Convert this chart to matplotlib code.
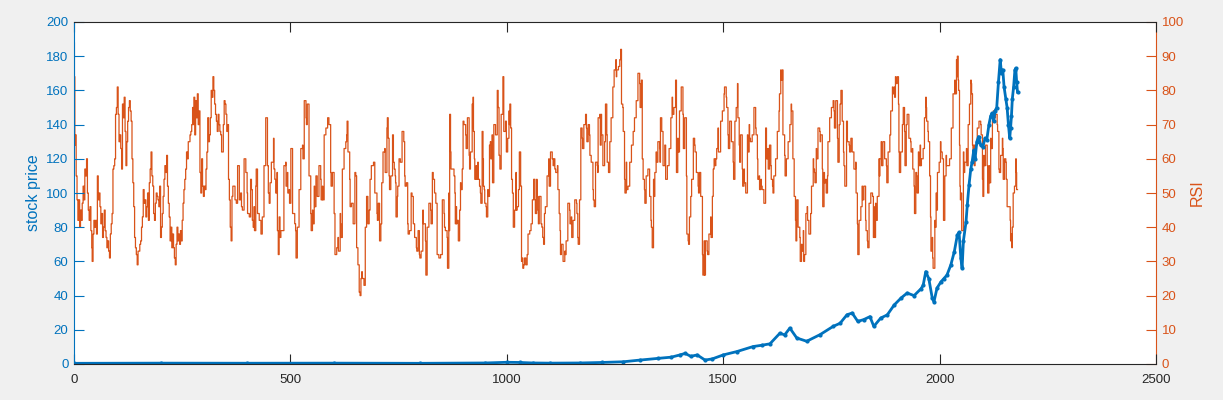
#Imports
import matplotlib
matplotlib.use('Agg')
import matplotlib.pyplot as plt
import numpy as np

plt.rcParams['font.family'] = ['Liberation Sans', 'DejaVu Sans']

#Colours (MATLAB default order)
blue = '#0072BD'
orange = '#D95319'
grey = '#262626'

#Stock price (day, price)
price_pts = [(0, 0.4), (200, 0.5), (400, 0.45), (600, 0.5), (800, 0.4), (950, 0.6), (1000, 1.0),
             (1030, 0.9), (1060, 0.6), (1100, 0.5), (1169, 0.6), (1220, 0.9), (1269, 1.3), (1308, 2.3),
             (1350, 3.3), (1380, 4.0), (1400, 5.3), (1412, 6.2), (1425, 4.5), (1440, 5.3), (1458, 2.3),
             (1475, 3.0), (1500, 5.3), (1532, 7.3), (1569, 10.2), (1590, 11), (1608, 11.8), (1631, 18),
             (1642, 17), (1654, 21), (1670, 15.2), (1693, 13.3), (1724, 17.2), (1754, 22), (1770, 23.8),
             (1786, 28.8), (1798, 29.8), (1811, 24.9), (1825, 26), (1839, 27.7), (1848, 22), (1864, 26.9),
             (1879, 28.7), (1895, 34.5), (1911, 38.6), (1925, 41.5), (1941, 40), (1957, 44), (1962, 46),
             (1968, 54), (1975, 50), (1983, 38.6), (1987, 36.4), (1994, 44.4), (2003, 48), (2010, 50),
             (2017, 52), (2026, 58), (2034, 65.7), (2041, 75.4), (2045, 77), (2049, 62), (2052, 56),
             (2055, 72), (2061, 83), (2064, 93), (2068, 104.7), (2072, 114), (2075, 118), (2079, 125),
             (2082, 120), (2086, 130), (2090, 133), (2095, 128), (2100, 127), (2105, 132), (2109, 131),
             (2114, 140), (2118, 145), (2121, 146.6), (2125, 142), (2128, 148), (2132, 150), (2136, 165),
             (2140, 178), (2143, 170), (2146, 172), (2149, 162), (2153, 155), (2156, 150), (2159, 140),
             (2162, 132), (2164, 138), (2166, 145), (2168, 155), (2171, 162), (2174, 172), (2176, 173),
             (2178, 165), (2180, 159)]

#RSI (day, value), in six pieces
rsi_part1 = [(0, 94), (1, 84), (2, 64), (3, 67), (5, 55), (7, 48), (9, 42), (11, 48), (13, 40), (15, 45),
             (17, 42), (19, 47), (21, 52), (23, 48), (25, 57), (27, 55), (29, 60), (31, 50), (33, 45),
             (35, 42), (37, 46), (39, 39), (41, 34), (42, 30), (44, 38), (46, 42), (48, 40), (50, 42),
             (52, 38), (54, 55), (56, 48), (58, 50), (60, 46), (62, 41), (64, 44), (66, 37), (68, 40),
             (70, 45), (72, 39), (74, 37), (76, 34), (78, 36), (80, 33), (82, 31), (84, 38), (86, 41),
             (88, 44), (90, 57), (92, 58), (94, 60), (96, 73), (98, 75), (100, 81), (102, 73), (104, 65),
             (106, 67), (108, 63), (110, 57), (112, 76), (114, 72), (116, 78), (118, 68), (120, 58),
             (122, 65), (124, 71), (126, 75), (128, 77), (130, 74), (132, 71), (134, 60), (136, 53),
             (138, 46), (140, 37), (142, 34), (144, 32), (146, 29), (148, 33), (150, 33), (152, 35),
             (154, 36), (156, 40), (158, 43), (160, 51), (162, 47), (164, 48), (166, 43), (168, 46),
             (170, 50), (172, 42), (174, 53), (176, 57), (178, 62), (180, 55), (182, 52), (184, 44),
             (186, 42), (188, 47), (190, 50), (192, 49), (194, 48), (196, 46), (198, 52), (200, 37),
             (202, 40), (204, 44), (206, 49), (208, 54), (210, 58), (212, 56), (214, 61), (216, 52),
             (218, 47), (220, 43), (222, 36), (224, 40), (226, 34), (228, 38), (230, 34), (232, 31),
             (234, 29), (236, 35), (238, 40), (240, 36), (242, 38), (244, 35), (246, 39), (248, 36),
             (250, 42), (252, 47), (254, 51), (256, 54), (258, 57), (260, 62), (262, 60), (264, 65),
             (266, 65), (268, 67), (270, 68), (272, 70), (274, 75), (276, 70), (277, 78), (279, 67),
             (281, 77), (283, 72), (285, 79), (287, 70), (289, 74), (291, 56), (293, 50), (295, 60),
             (297, 52), (299, 49), (301, 52), (303, 51), (305, 57), (307, 62), (309, 72), (311, 65),
             (313, 67), (315, 72), (317, 80), (319, 78), (321, 84), (323, 80), (325, 76), (327, 73),
             (329, 71), (331, 68), (333, 73), (335, 70), (337, 68), (339, 67), (341, 62), (343, 62),
             (345, 70), (347, 77), (349, 76), (351, 73), (353, 68), (355, 70), (357, 54), (359, 48),
             (361, 40), (363, 36), (365, 49), (367, 52)]
rsi_part2 = [(370, 52), (372, 48), (375, 47), (378, 58), (382, 48), (385, 50), (387, 46), (389, 45),
             (393, 60), (397, 56), (400, 50), (401, 44), (405, 43), (408, 54), (410, 51), (412, 42),
             (414, 40), (416, 46), (417, 39), (420, 52), (421, 57), (424, 44), (428, 42), (432, 38),
             (435, 43), (439, 58), (443, 72), (447, 58), (449, 50), (451, 47), (453, 53), (456, 59),
             (461, 66), (462, 57), (464, 54), (466, 50), (469, 56), (470, 39), (472, 32), (474, 43),
             (476, 37), (478, 39), (484, 39), (485, 58), (489, 59), (490, 52), (493, 56), (494, 50),
             (497, 51), (498, 47), (501, 63), (505, 44), (509, 44), (510, 41), (512, 39), (513, 31),
             (516, 40), (520, 51), (524, 63), (528, 64), (529, 60), (532, 77), (536, 72), (537, 70),
             (539, 76), (543, 55), (547, 44), (548, 39), (551, 45), (552, 41), (555, 52), (556, 46),
             (559, 55), (562, 49), (566, 58), (570, 54), (571, 48), (574, 52), (575, 48), (578, 67),
             (582, 69), (586, 72), (589, 70), (593, 56), (594, 52), (597, 56), (601, 44), (603, 32),
             (607, 34), (610, 37), (611, 33), (615, 44), (616, 41), (617, 37), (620, 57), (624, 63),
             (628, 65), (630, 67), (631, 71), (633, 62), (637, 54), (638, 46), (641, 47), (645, 41),
             (649, 56), (651, 55), (653, 34), (656, 29), (659, 21), (661, 20), (663, 25), (665, 27),
             (666, 25), (670, 23), (673, 40), (676, 49), (679, 41), (682, 45), (684, 54), (687, 58),
             (692, 59), (695, 50), (700, 44), (701, 42), (703, 47), (706, 36), (709, 41), (711, 53),
             (714, 62), (718, 63), (719, 56), (723, 69), (724, 72), (726, 66), (728, 55), (729, 51),
             (732, 55), (736, 67), (738, 59)]
rsi_part3 = [(740, 57), (742, 55), (743, 53), (744, 43), (747, 49), (748, 52), (751, 60), (754, 59),
             (758, 68), (762, 65), (764, 55), (765, 52), (768, 53), (771, 41), (772, 38), (775, 39),
             (779, 50), (781, 49), (784, 41), (787, 37), (791, 34), (792, 33), (795, 39), (798, 32),
             (799, 31), (802, 33), (806, 45), (807, 41), (809, 41), (812, 36), (813, 26), (815, 26),
             (816, 40), (820, 47), (824, 45), (825, 41), (828, 56), (830, 54), (833, 50), (836, 47),
             (839, 32), (843, 31), (847, 32), (851, 48), (855, 44), (856, 40), (858, 39), (862, 37),
             (863, 28), (866, 50), (867, 39), (868, 73), (870, 62), (871, 57), (874, 57), (878, 55),
             (880, 50), (881, 41), (883, 46), (884, 41), (885, 42), (888, 36), (891, 45), (893, 53),
             (894, 51), (897, 57), (899, 71), (901, 70), (905, 67), (906, 63), (909, 72), (913, 61),
             (914, 57), (916, 62), (920, 76), (921, 69), (922, 78), (923, 68), (925, 60), (926, 54),
             (929, 58), (930, 54), (933, 59), (934, 54), (937, 52), (939, 50), (940, 47), (943, 68),
             (945, 60), (946, 52), (948, 51), (949, 47), (952, 46), (953, 43), (956, 51), (957, 49),
             (960, 64), (962, 65), (963, 60), (966, 67), (967, 53), (970, 70), (974, 67), (978, 80),
             (980, 75), (982, 61), (984, 57), (987, 73), (991, 84), (993, 68), (997, 71), (999, 62),
             (1002, 66), (1005, 74), (1006, 70), (1007, 76), (1009, 69), (1011, 54), (1013, 50),
             (1015, 40), (1018, 45), (1021, 56), (1022, 45), (1024, 46), (1027, 51), (1029, 62),
             (1032, 52), (1034, 30), (1036, 31), (1037, 28), (1039, 29), (1041, 31), (1044, 29),
             (1047, 32), (1049, 38), (1053, 39), (1056, 41), (1059, 48), (1062, 54), (1065, 48),
             (1066, 44), (1069, 54), (1070, 49), (1072, 45), (1073, 41), (1075, 49), (1079, 41),
             (1081, 40), (1083, 37), (1085, 35), (1087, 44), (1089, 46), (1093, 55), (1097, 60),
             (1098, 52), (1101, 62), (1105, 60), (1107, 58)]
rsi_part4 = [(1109, 60), (1111, 57), (1113, 56), (1117, 58), (1118, 51), (1121, 44), (1123, 39),
             (1124, 32), (1126, 35), (1130, 30), (1134, 33), (1135, 32), (1137, 36), (1141, 47),
             (1145, 45), (1146, 41), (1149, 43), (1150, 37), (1153, 42), (1157, 48), (1161, 47),
             (1162, 44), (1164, 37), (1165, 35), (1168, 48), (1171, 69), (1174, 66), (1175, 63),
             (1178, 70), (1182, 73), (1184, 69), (1185, 65), (1188, 70), (1191, 67), (1192, 61),
             (1195, 59), (1199, 51), (1200, 48), (1202, 46), (1205, 59), (1209, 58), (1210, 56),
             (1211, 72), (1215, 73), (1216, 64), (1218, 73), (1219, 67), (1222, 58), (1226, 65),
             (1228, 76), (1231, 67), (1232, 59), (1235, 56), (1238, 65), (1241, 72), (1245, 81),
             (1248, 86), (1252, 89), (1253, 84), (1254, 86), (1258, 87), (1261, 89), (1263, 92),
             (1265, 76), (1268, 75), (1269, 68), (1272, 54), (1273, 50), (1276, 59), (1277, 51),
             (1280, 52), (1284, 59), (1288, 64), (1292, 68), (1295, 72), (1299, 77), (1303, 85),
             (1307, 82), (1308, 75), (1311, 83), (1313, 60), (1315, 54), (1318, 51), (1319, 47),
             (1322, 55), (1326, 57), (1330, 49), (1333, 42), (1334, 40), (1336, 34), (1339, 54),
             (1340, 49), (1342, 56), (1345, 62), (1346, 59), (1349, 65), (1353, 63), (1354, 59),
             (1355, 72), (1358, 68), (1361, 58), (1365, 64), (1367, 54), (1371, 58), (1375, 63),
             (1379, 72), (1382, 78), (1383, 73), (1386, 75), (1390, 83), (1392, 56), (1395, 66),
             (1396, 62), (1399, 74), (1403, 81), (1407, 73), (1408, 63), (1411, 72), (1415, 55),
             (1416, 38), (1419, 36), (1420, 35), (1422, 43), (1425, 49), (1427, 54), (1431, 66),
             (1434, 64), (1435, 62), (1438, 56), (1442, 52), (1443, 50), (1445, 56), (1448, 49),
             (1452, 32), (1453, 26), (1456, 36), (1457, 26), (1459, 36), (1463, 33), (1464, 32),
             (1467, 38), (1471, 43), (1472, 37), (1475, 49), (1477, 57)]
rsi_part5 = [(1479, 60), (1481, 58), (1483, 60), (1485, 63), (1488, 69), (1489, 62), (1492, 62),
             (1494, 71), (1498, 74), (1502, 79), (1503, 81), (1506, 81), (1507, 78), (1508, 75),
             (1511, 67), (1512, 63), (1515, 71), (1519, 65), (1523, 59), (1524, 54), (1527, 71),
             (1530, 75), (1533, 82), (1534, 72), (1537, 64), (1538, 59), (1540, 67), (1544, 57),
             (1545, 52), (1548, 57), (1549, 53), (1552, 50), (1556, 67), (1557, 62), (1560, 70),
             (1561, 66), (1563, 65), (1567, 67), (1571, 75), (1575, 69), (1576, 67), (1579, 60),
             (1580, 54), (1583, 55), (1584, 51), (1587, 54), (1588, 52), (1590, 51), (1594, 47),
             (1598, 69), (1600, 60), (1603, 63), (1604, 57), (1607, 64), (1610, 58), (1611, 54),
             (1614, 52), (1615, 50), (1617, 55), (1621, 60), (1625, 68), (1629, 74), (1630, 79),
             (1633, 86), (1634, 83), (1637, 86), (1638, 67), (1642, 61), (1643, 55), (1646, 60),
             (1650, 65), (1654, 70), (1657, 76), (1658, 74), (1661, 60), (1664, 49), (1667, 42),
             (1668, 36), (1670, 48), (1673, 40), (1677, 37), (1678, 30), (1681, 35), (1682, 33),
             (1685, 39), (1686, 30), (1688, 32), (1691, 44), (1694, 46), (1695, 42), (1698, 38),
             (1702, 44), (1704, 52), (1708, 60), (1709, 57), (1711, 56), (1712, 53), (1715, 63),
             (1716, 60), (1719, 69), (1723, 68), (1724, 65), (1725, 67), (1729, 57), (1730, 46),
             (1733, 56), (1734, 53), (1737, 54), (1738, 50), (1741, 55), (1742, 65), (1746, 72),
             (1750, 75), (1754, 77), (1756, 74), (1757, 69), (1760, 77), (1764, 66), (1765, 59),
             (1768, 70), (1770, 76), (1772, 80), (1775, 71), (1778, 62), (1779, 58), (1781, 52),
             (1785, 71), (1787, 65), (1791, 64), (1792, 62), (1795, 66), (1798, 62), (1802, 57),
             (1806, 59), (1807, 50), (1810, 41), (1811, 32), (1814, 42), (1818, 46), (1821, 52),
             (1822, 48), (1825, 52), (1829, 42), (1830, 39), (1833, 36), (1834, 34), (1837, 47),
             (1841, 50), (1845, 49), (1847, 37)]
rsi_part6 = [(1848, 46), (1849, 37), (1852, 47), (1853, 42), (1856, 49), (1860, 60), (1861, 55),
             (1862, 60), (1865, 65), (1866, 58), (1869, 65), (1873, 60), (1877, 58), (1878, 53),
             (1881, 62), (1885, 67), (1887, 74), (1891, 81), (1892, 79), (1895, 81), (1896, 78),
             (1898, 84), (1899, 82), (1902, 84), (1905, 76), (1906, 62), (1907, 56), (1910, 62),
             (1914, 70), (1916, 75), (1919, 68), (1920, 58), (1923, 70), (1925, 73), (1929, 66),
             (1933, 65), (1934, 62), (1937, 63), (1938, 57), (1941, 52), (1942, 44), (1945, 56),
             (1947, 55), (1948, 50), (1951, 62), (1952, 58), (1955, 64), (1956, 58), (1958, 60),
             (1962, 63), (1965, 72), (1968, 78), (1969, 75), (1970, 71), (1973, 68), (1974, 65),
             (1977, 55), (1979, 43), (1980, 33), (1983, 37), (1984, 31), (1985, 28), (1989, 42),
             (1990, 40), (1992, 50), (1993, 45), (1995, 56), (1999, 59), (2002, 65), (2003, 62),
             (2006, 60), (2009, 42), (2012, 55), (2015, 61), (2016, 58), (2019, 58), (2023, 60),
             (2027, 69), (2031, 79), (2035, 83), (2036, 79), (2039, 89), (2040, 84), (2041, 90),
             (2043, 83), (2044, 80), (2046, 64), (2047, 52), (2048, 48), (2050, 50), (2051, 39),
             (2053, 39), (2055, 62), (2056, 56), (2058, 59), (2062, 63), (2063, 58), (2066, 70),
             (2069, 76), (2072, 83), (2073, 82), (2074, 79), (2076, 64), (2077, 59), (2079, 64),
             (2080, 58), (2082, 64), (2087, 69), (2091, 71), (2095, 70), (2096, 67), (2099, 54),
             (2100, 49), (2102, 61), (2103, 58), (2106, 64), (2110, 58), (2111, 50), (2114, 58),
             (2115, 53), (2118, 66), (2119, 63), (2122, 71), (2124, 74), (2127, 72), (2129, 73),
             (2133, 70), (2134, 68), (2137, 57), (2138, 56), (2141, 61), (2145, 66), (2146, 63),
             (2147, 54), (2150, 60), (2153, 59), (2154, 54), (2156, 46), (2160, 46), (2163, 42),
             (2164, 36), (2166, 38), (2167, 34), (2168, 40), (2170, 50), (2173, 52), (2176, 60),
             (2177, 56), (2178, 51), (2180, 51)]

#Split into x / y arrays
price_day, price = np.array(price_pts).T
rsi_all = rsi_part1 + rsi_part2 + rsi_part3 + rsi_part4 + rsi_part5 + rsi_part6
rsi_day, rsi = np.array(rsi_all).T

#Figure, sized like the MATLAB window
fig = plt.figure(figsize=(12.23, 4), dpi=100, facecolor='#f0f0f0')
ax = fig.add_axes([74 / 1223, 36 / 400, 1082 / 1223, 342 / 400])
ax2 = ax.twinx()

#Right axis (RSI) drawn underneath, left axis (price) on top
ax2.set_zorder(1)
ax.set_zorder(2)
ax.patch.set_visible(False)
ax2.patch.set_visible(True)
ax2.patch.set_facecolor('white')

ax2.plot(rsi_day, rsi, color=orange, lw=0.9, drawstyle='steps-post')
ax.plot(price_day, price, color=blue, lw=2, marker='.', ms=4)

#Limits and ticks
ax.set_xlim(0, 2500)
ax.set_xticks(np.arange(0, 2501, 500))
ax.set_ylim(0, 200)
ax.set_yticks(np.arange(0, 201, 20))
ax2.set_ylim(0, 100)
ax2.set_yticks(np.arange(0, 101, 10))

ax.tick_params(axis='x', direction='in', top=True, length=7, width=0.8, colors=grey, labelsize=9.5, pad=7)
ax.tick_params(axis='y', direction='in', length=7, width=0.8, colors=blue, labelsize=9.5, pad=4)
ax2.tick_params(axis='y', direction='in', length=7, width=0.8, colors=orange, labelsize=9.5, pad=4)

#Spines
for s in ['top', 'bottom']:
    ax.spines[s].set_color(grey)
    ax2.spines[s].set_visible(False)
ax.spines['left'].set_color(blue)
ax.spines['right'].set_visible(False)
ax2.spines['left'].set_visible(False)
ax2.spines['right'].set_color(orange)

ax.set_ylabel('stock price', color=blue, fontsize=11.5)
ax2.set_ylabel('RSI', color=orange, fontsize=11.5)

fig.savefig('out.png', dpi=100, facecolor=fig.get_facecolor())
